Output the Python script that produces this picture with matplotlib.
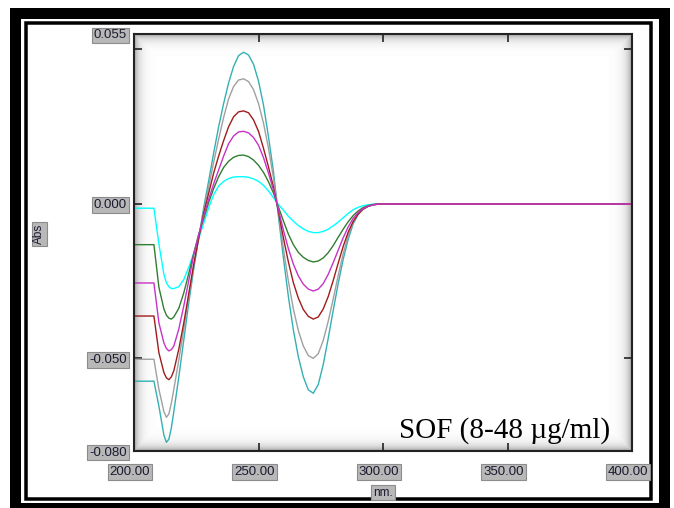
import numpy as np
import matplotlib.pyplot as plt
import matplotlib.transforms as mtransforms
from matplotlib.patches import Rectangle

# wavelength grid (nm) and derivative absorbance
wl = [200, 208, 210, 212, 213, 214, 215, 216, 218, 220, 222, 224, 226, 228, 230,
      232, 234, 236, 238, 240, 242, 244, 246, 248, 250, 252, 254, 256, 258, 260,
      262, 264, 266, 268, 270, 272, 274, 276, 278, 280, 282, 284, 286, 288, 290,
      292, 294, 296, 298, 300, 400]

sof_8 = [-0.0014, -0.0014, -0.0130, -0.0228, -0.0255, -0.0268, -0.0274, -0.0274, -0.0268, -0.0245,
         -0.0205, -0.0160, -0.0112, -0.0062, -0.0012, 0.0030, 0.0058, 0.0073, 0.0082, 0.0087,
         0.0088, 0.0088, 0.0086, 0.0081, 0.0073, 0.0060, 0.0042, 0.0020, -0.0002, -0.0020,
         -0.0040, -0.0056, -0.0070, -0.0081, -0.0089, -0.0093, -0.0093, -0.0089, -0.0082, -0.0071,
         -0.0059, -0.0045, -0.0031, -0.0019, -0.0011, -0.0006, -0.0003, -0.0001, 0.0, 0.0, 0.0]
sof_16 = [-0.0132, -0.0132, -0.0270, -0.0340, -0.0360, -0.0370, -0.0373, -0.0366, -0.0338, -0.0288,
          -0.0225, -0.0160, -0.0098, -0.0048, 0.0005, 0.0050, 0.0088, 0.0118, 0.0138, 0.0151,
          0.0157, 0.0158, 0.0153, 0.0142, 0.0125, 0.0102, 0.0072, 0.0035, -0.0010, -0.0055,
          -0.0098, -0.0132, -0.0157, -0.0173, -0.0183, -0.0188, -0.0185, -0.0175, -0.0158, -0.0135,
          -0.0108, -0.0082, -0.0058, -0.0038, -0.0023, -0.0012, -0.0006, -0.0002, 0.0, 0.0, 0.0]
sof_24 = [-0.0256, -0.0256, -0.0385, -0.0450, -0.0468, -0.0476, -0.0472, -0.0460, -0.0405, -0.0330,
          -0.0248, -0.0165, -0.0100, -0.0038, 0.0015, 0.0065, 0.0110, 0.0155, 0.0195, 0.0220,
          0.0233, 0.0235, 0.0230, 0.0215, 0.0190, 0.0150, 0.0100, 0.0045, -0.0018, -0.0085,
          -0.0145, -0.0195, -0.0233, -0.0260, -0.0276, -0.0282, -0.0276, -0.0258, -0.0228, -0.0190,
          -0.0150, -0.0110, -0.0075, -0.0047, -0.0028, -0.0015, -0.0008, -0.0003, -0.0001, 0.0, 0.0]
sof_32 = [-0.0363, -0.0363, -0.0482, -0.0546, -0.0563, -0.0569, -0.0560, -0.0540, -0.0470, -0.0385,
          -0.0290, -0.0195, -0.0110, -0.0030, 0.0035, 0.0100, 0.0155, 0.0205, 0.0250, 0.0282,
          0.0298, 0.0301, 0.0295, 0.0272, 0.0235, 0.0180, 0.0120, 0.0055, -0.0025, -0.0110,
          -0.0188, -0.0255, -0.0305, -0.0342, -0.0364, -0.0373, -0.0366, -0.0340, -0.0300, -0.0248,
          -0.0192, -0.0138, -0.0092, -0.0057, -0.0033, -0.0017, -0.0008, -0.0003, -0.0001, 0.0, 0.0]
sof_40 = [-0.0503, -0.0503, -0.0600, -0.0672, -0.0691, -0.0680, -0.0645, -0.0600, -0.0505, -0.0405,
          -0.0300, -0.0200, -0.0110, -0.0022, 0.0055, 0.0135, 0.0210, 0.0280, 0.0340, 0.0380,
          0.0401, 0.0405, 0.0396, 0.0370, 0.0325, 0.0262, 0.0180, 0.0085, -0.0030, -0.0145,
          -0.0250, -0.0340, -0.0410, -0.0460, -0.0491, -0.0500, -0.0485, -0.0442, -0.0380, -0.0308,
          -0.0232, -0.0162, -0.0103, -0.0060, -0.0033, -0.0017, -0.0008, -0.0003, -0.0001, 0.0, 0.0]
sof_48 = [-0.0574, -0.0574, -0.0655, -0.0748, -0.0772, -0.0762, -0.0725, -0.0672, -0.0560, -0.0440,
          -0.0320, -0.0210, -0.0110, -0.0012, 0.0075, 0.0165, 0.0250, 0.0325, 0.0392, 0.0445,
          0.0480, 0.0491, 0.0482, 0.0452, 0.0398, 0.0320, 0.0218, 0.0105, -0.0040, -0.0175,
          -0.0300, -0.0408, -0.0495, -0.0560, -0.0602, -0.0613, -0.0585, -0.0520, -0.0435, -0.0345,
          -0.0258, -0.0180, -0.0115, -0.0065, -0.0035, -0.0017, -0.0008, -0.0003, -0.0001, 0.0, 0.0]

series = [(sof_8, '#00ffff'), (sof_16, '#2f7f2f'), (sof_48, '#33b0b4'),
          (sof_40, '#a0a0a0'), (sof_32, '#a01c1c'), (sof_24, '#c633c6')]

xticks = [200, 250, 300, 350, 400]
yticks = [-0.080, -0.050, 0.000, 0.055]

fig = plt.figure(figsize=(6.74, 5.08), dpi=100)

# page frame (pixel coordinates)
frame = fig.add_axes([0, 0, 1, 1], zorder=0)
frame.set_xlim(0, 674)
frame.set_ylim(508, 0)
frame.axis('off')
frame.add_patch(Rectangle((14.5, 12.5), 663.5 - 14.5, 507.5 - 12.5, fill=False,
                          edgecolor='black', linewidth=11 * 0.72))
frame.add_patch(Rectangle((26, 22.5), 651 - 26, 498.5 - 22.5, fill=False,
                          edgecolor='black', linewidth=3.5 * 0.72))

ax = fig.add_axes([134 / 674, 57 / 508, 498 / 674, 417 / 508], zorder=1)

# soft shadow along the inside of the plot box
h, w = 417, 498
yy, xx = np.mgrid[0:h, 0:w]
d = np.minimum(np.minimum(xx, w - 1 - xx), np.minimum(yy, h - 1 - yy))
shade = 1 - 0.35 * np.exp(-d / 5.0)
ax.imshow(shade, cmap='gray', vmin=0, vmax=1, extent=[0, 1, 0, 1],
          transform=ax.transAxes, aspect='auto', zorder=0)

for vals, col in series:
    ax.plot(wl, vals, color=col, linewidth=1.0, zorder=2)

ax.set_xlim(200, 400)
ax.set_ylim(-0.080, 0.055)
ax.set_xticks(xticks)
ax.set_xticklabels([f'{t:.2f}' for t in xticks])
ax.set_yticks(yticks)
ax.set_yticklabels([f'{t:.3f}' for t in yticks])
ax.set_yticks([0.05], minor=True)
ax.tick_params(which='both', direction='in', top=True, right=True, length=6,
               width=1.2, color='#222222', labelsize=9.5, labelcolor='#1a1a30')
ax.tick_params(axis='x', pad=11)
ax.tick_params(axis='y', pad=5)
for sp in ax.spines.values():
    sp.set_color('#222222')
    sp.set_linewidth(1.5)

box = dict(boxstyle='square,pad=0.15', facecolor='#b8b8b8', edgecolor='#8c8c8c', linewidth=0.8)
shift = mtransforms.ScaledTranslation(-4 / 100, 0, fig.dpi_scale_trans)
for lab in ax.get_xticklabels():
    lab.set_family('Liberation Sans')
    lab.set_bbox(box)
    lab.set_transform(lab.get_transform() + shift)
for lab in ax.get_yticklabels():
    lab.set_family('Liberation Sans')
    lab.set_bbox(box)

ax.set_xlabel('nm.', fontsize=8.5, family='Liberation Sans', color='#1a1a30', bbox=box, labelpad=6)
ax.set_ylabel('Abs', fontsize=8.5, family='Liberation Sans', color='#1a1a30', bbox=box)
ax.yaxis.set_label_coords(-0.178, 0.52)

ax.text(0.956, 0.032, 'SOF (8-48 \u00b5g/ml)', transform=ax.transAxes, ha='right',
        va='baseline', fontsize=21, family='Liberation Serif', color='black', zorder=3)

plt.savefig('out.png', dpi=100)
